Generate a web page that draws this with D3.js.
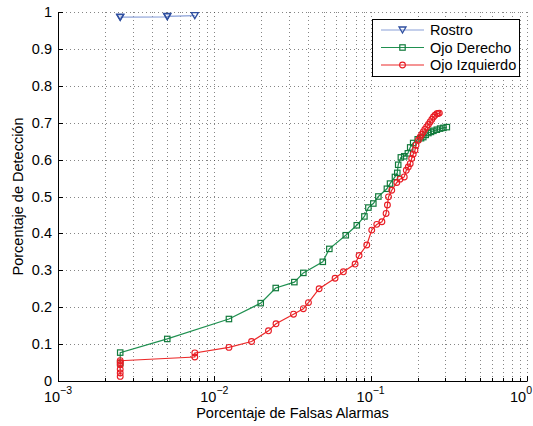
<!DOCTYPE html>
<html><head><meta charset="utf-8">
<script src="https://cdn.jsdelivr.net/npm/d3@7"></script>
<style>body{margin:0;background:#fff}svg{display:block}text{font-family:"Liberation Sans",Arial,sans-serif}</style>
</head><body>
<svg id="c" width="533" height="426"></svg>
<script>
const seriesNames = ["Rostro", "Ojo Derecho", "Ojo Izquierdo"];
const rostroX = [0.0025, 0.0025, 0.005, 0.005, 0.0075];
const rostroY = [0.985, 0.986, 0.987, 0.988, 0.990];
const derechoX = [0.0025,0.0025,0.0050,0.0124,0.0198,0.0247,0.0325,0.0371,0.0494,0.0544,0.0693,0.0815,0.0912,0.0967,0.104,0.112,0.127,0.133,0.143,0.148,0.150,0.156,0.164,0.173,0.179,0.187,0.200,0.210,0.217,0.225,0.234,0.243,0.252,0.265,0.278,0.292,0.307];
const derechoY = [0.048,0.077,0.114,0.168,0.211,0.252,0.268,0.293,0.323,0.358,0.395,0.422,0.446,0.470,0.481,0.500,0.521,0.535,0.553,0.564,0.586,0.606,0.609,0.617,0.633,0.645,0.655,0.658,0.661,0.667,0.672,0.675,0.678,0.681,0.684,0.686,0.688];
const izqX = [0.0025,0.0025,0.0025,0.0025,0.0025,0.0025,0.0075,0.0075,0.0124,0.0173,0.0222,0.0248,0.0321,0.0371,0.040,0.0468,0.0592,0.0669,0.0795,0.0843,0.0944,0.1016,0.1094,0.118,0.1255,0.128,0.130,0.1364,0.147,0.154,0.164,0.169,0.174,0.179,0.183,0.187,0.192,0.195,0.202,0.207,0.212,0.217,0.222,0.228,0.234,0.240,0.246,0.252,0.258,0.265,0.270,0.275];
const izqY = [0.0125,0.022,0.032,0.044,0.050,0.055,0.065,0.076,0.091,0.107,0.136,0.155,0.181,0.196,0.2125,0.25,0.2785,0.296,0.317,0.340,0.3686,0.409,0.4245,0.4316,0.454,0.477,0.499,0.517,0.538,0.547,0.553,0.571,0.580,0.589,0.603,0.6146,0.6255,0.639,0.6525,0.661,0.668,0.675,0.682,0.6885,0.695,0.702,0.709,0.7155,0.720,0.7247,0.725,0.726];
const xTickExps = [-3, -2, -1, 0];
const yTicks = [0,0.1,0.2,0.3,0.4,0.5,0.6,0.7,0.8,0.9,1];
const yTickLabels = ["0","0.1","0.2","0.3","0.4","0.5","0.6","0.7","0.8","0.9","1"];
const xLabel = "Porcentaje de Falsas Alarmas";
const yLabel = "Porcentaje de Detección";

const svg = d3.select("#c");
const L=58, R=527, T=12, B=381;
const x = d3.scaleLog().domain([1e-3,1]).range([L,R]);
const y = d3.scaleLinear().domain([0,1]).range([B,T]);

const minor = [];
for (let e=-3;e<0;e++) for (let m=1;m<10;m++) minor.push(m*Math.pow(10,e));
minor.push(1);
const grid = svg.append("g").attr("stroke","#333").attr("stroke-width",1).attr("stroke-dasharray","1,3");
minor.forEach(v=>{ if (v>1e-3) grid.append("line").attr("x1",Math.round(x(v))+0.5).attr("x2",Math.round(x(v))+0.5).attr("y1",T).attr("y2",B).attr("stroke-opacity",0.6);});
yTicks.forEach(v=>{ if (v>0) grid.append("line").attr("x1",L).attr("x2",R).attr("y1",Math.round(y(v))+0.5).attr("y2",Math.round(y(v))+0.5).attr("stroke-opacity",0.6);});

const ax = svg.append("g").attr("stroke","#000").attr("stroke-width",1);
ax.append("line").attr("x1",L+0.5).attr("x2",L+0.5).attr("y1",T).attr("y2",B+0.5);
ax.append("line").attr("x1",L).attr("x2",R+0.5).attr("y1",B+0.5).attr("y2",B+0.5);
yTicks.forEach(v=>ax.append("line").attr("x1",L).attr("x2",L+5).attr("y1",Math.round(y(v))+0.5).attr("y2",Math.round(y(v))+0.5));
minor.forEach(v=>{ const isMaj = xTickExps.some(e=>Math.abs(Math.log10(v)-e)<1e-9);
  ax.append("line").attr("x1",Math.round(x(v))+0.5).attr("x2",Math.round(x(v))+0.5).attr("y1",B).attr("y2",B-(isMaj?5:3));});

const tl = svg.append("g").attr("font-size","14.5px").attr("fill","#000");
yTicks.forEach((v,i)=>tl.append("text").attr("x",L-6).attr("y",y(v)+5).attr("text-anchor","end").text(yTickLabels[i]));
xTickExps.forEach(e=>{
  const px = x(Math.pow(10,e));
  const last = e===0;
  const t = tl.append("text").attr("x",last?532:px).attr("y",402).attr("text-anchor",last?"end":"middle");
  t.append("tspan").text("10");
  t.append("tspan").attr("dy",-8).attr("font-size","10.5px").text(e<0?"\u2212"+(-e):String(e));
});
svg.append("text").attr("x",(L+R)/2).attr("y",418).attr("text-anchor","middle").attr("font-size","14.5px").text(xLabel);
svg.append("text").attr("transform","translate(23,"+((T+B)/2)+") rotate(-90)").attr("text-anchor","middle").attr("font-size","14.5px").text(yLabel);

const series = [
 {xs:rostroX, ys:rostroY, line:"#8aa0d8", mk:"#2f4fa0", shape:"tri"},
 {xs:derechoX, ys:derechoY, line:"#1f9050", mk:"#127a3c", shape:"sq"},
 {xs:izqX, ys:izqY, line:"#ec2a2a", mk:"#e81c24", shape:"circ"}
];
function marker(g, cx, cy, s){
  if (s.shape==="tri") g.append("path").attr("d",`M${cx-3.5},${cy-3}L${cx+3.5},${cy-3}L${cx},${cy+3}Z`).attr("fill","none").attr("stroke",s.mk).attr("stroke-width",1.3);
  else if (s.shape==="sq") g.append("rect").attr("x",cx-2.7).attr("y",cy-2.7).attr("width",5.4).attr("height",5.4).attr("fill","none").attr("stroke",s.mk).attr("stroke-width",1.2);
  else g.append("circle").attr("cx",cx).attr("cy",cy).attr("r",2.9).attr("fill","none").attr("stroke",s.mk).attr("stroke-width",1.1);
}
const lineGen = d3.line().x(d=>x(d[0])).y(d=>y(d[1]));
series.forEach(s=>{
  const pts = s.xs.map((v,i)=>[v,s.ys[i]]);
  const g = svg.append("g");
  g.append("path").attr("d",lineGen(pts)).attr("fill","none").attr("stroke",s.line).attr("stroke-width",1.2);
  pts.forEach(p=>marker(g,x(p[0]),y(p[1]),s));
});

const lg = svg.append("g");
lg.append("rect").attr("x",372.5).attr("y",19.5).attr("width",147).attr("height",57).attr("fill","#fff").attr("stroke","#000").attr("stroke-width",1);
seriesNames.forEach((n,i)=>{
  const yy = 30 + i*17.5;
  lg.append("line").attr("x1",381).attr("x2",424).attr("y1",yy).attr("y2",yy).attr("stroke",series[i].line).attr("stroke-width",1.2);
  marker(lg,402.5,yy,series[i]);
  lg.append("text").attr("x",430).attr("y",yy+5).attr("font-size","14.5px").text(n);
});
</script>
</body></html>
